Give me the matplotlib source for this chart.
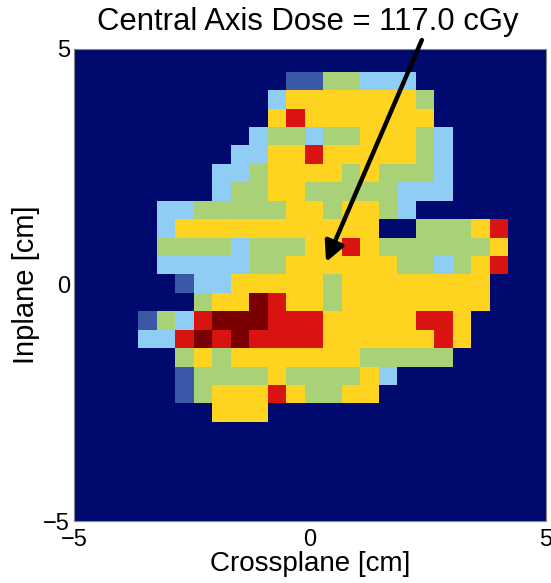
import numpy as np
import matplotlib
matplotlib.use("Agg")
import matplotlib.pyplot as plt
from matplotlib.colors import ListedColormap, BoundaryNorm

# dose map, one string per detector row (top to bottom)
# . = below threshold, B/L/G/Y/R/D = increasing dose bins
dose_rows = [
    "........BBGGLLL.....",
    ".......LYYYYYYYG....",
    ".......YRYYYYYYY....",
    "......LGGLGGYYYGL...",
    ".....LLYYRYYYYYGL...",
    "....LLGYYYYGYGGGL...",
    "....LGGYYGGGGGLLL...",
    ".LLGGGGGYYGYYGL.....",
    ".LYYYYYYYYYYY..GGGYR",
    ".GGGGLGGGYYRYGGGGGGY",
    ".LLLLLGGYYYYYYGGLGYR",
    "..BLLYYYYYGYYYYYYYY.",
    "...GYYDRYYGYYYYYYYY.",
    "BGLRDDDRRRYYYYYRRY..",
    "LLRDRDRRRRYYYYYYRY..",
    "..GYGYYYYYYYGGGGG...",
    "..BGGGGYGGGGYL......",
    "..BGYYYRYGGYY.......",
    "....YYY.............",
]
bin_codes = ".BLGYRD"
bin_colors = ["#000a6e", "#3a58a6", "#8fcdf4", "#a9d178",
              "#ffd420", "#d81310", "#780000"]

central_dose = 117.0
ticks = [-5, 0, 5]

grid = np.array([[bin_codes.index(ch) for ch in row] for row in dose_rows])
n_rows, n_cols = grid.shape

# detector pitch and grid origin (cm)
dx, dy = 0.392, 0.39
x_edges = -3.64 + dx * np.arange(n_cols + 1)
y_edges = 4.51 - dy * np.arange(n_rows + 1)

plt.rcParams["font.family"] = ["Liberation Sans", "DejaVu Sans"]

fig = plt.figure(figsize=(5.51, 5.83), dpi=100)
ax = fig.add_axes([0.1343, 0.1063, 0.8566, 0.8105])
ax.set_facecolor(bin_colors[0])

cmap = ListedColormap(bin_colors)
norm = BoundaryNorm(np.arange(len(bin_colors) + 1) - 0.5, cmap.N)
ax.pcolormesh(x_edges, y_edges, grid, cmap=cmap, norm=norm)

ax.set_xlim(-5, 5)
ax.set_ylim(-5, 5)
ax.set_xticks(ticks)
ax.set_yticks(ticks)
ax.tick_params(length=0, labelsize=17)
ax.tick_params(axis="x", pad=6)
ax.tick_params(axis="y", pad=3)
for s in ax.spines.values():
    s.set_color("#888888")
    s.set_linewidth(0.8)

ax.set_xlabel("Crossplane [cm]", fontsize=20, labelpad=0)
ax.set_ylabel("Inplane [cm]", fontsize=21, labelpad=2)

ax.annotate("", xy=(0.34, 0.48), xytext=(2.37, 5.18),
            arrowprops=dict(arrowstyle="-|>", lw=3.2, color="black",
                            mutation_scale=30, shrinkA=0, shrinkB=0),
            annotation_clip=False)

fig.text(0.176, 0.963, f"Central Axis Dose = {central_dose:.1f} cGy",
         fontsize=22.3, ha="left", va="center")

fig.savefig("out.png", dpi=100)
